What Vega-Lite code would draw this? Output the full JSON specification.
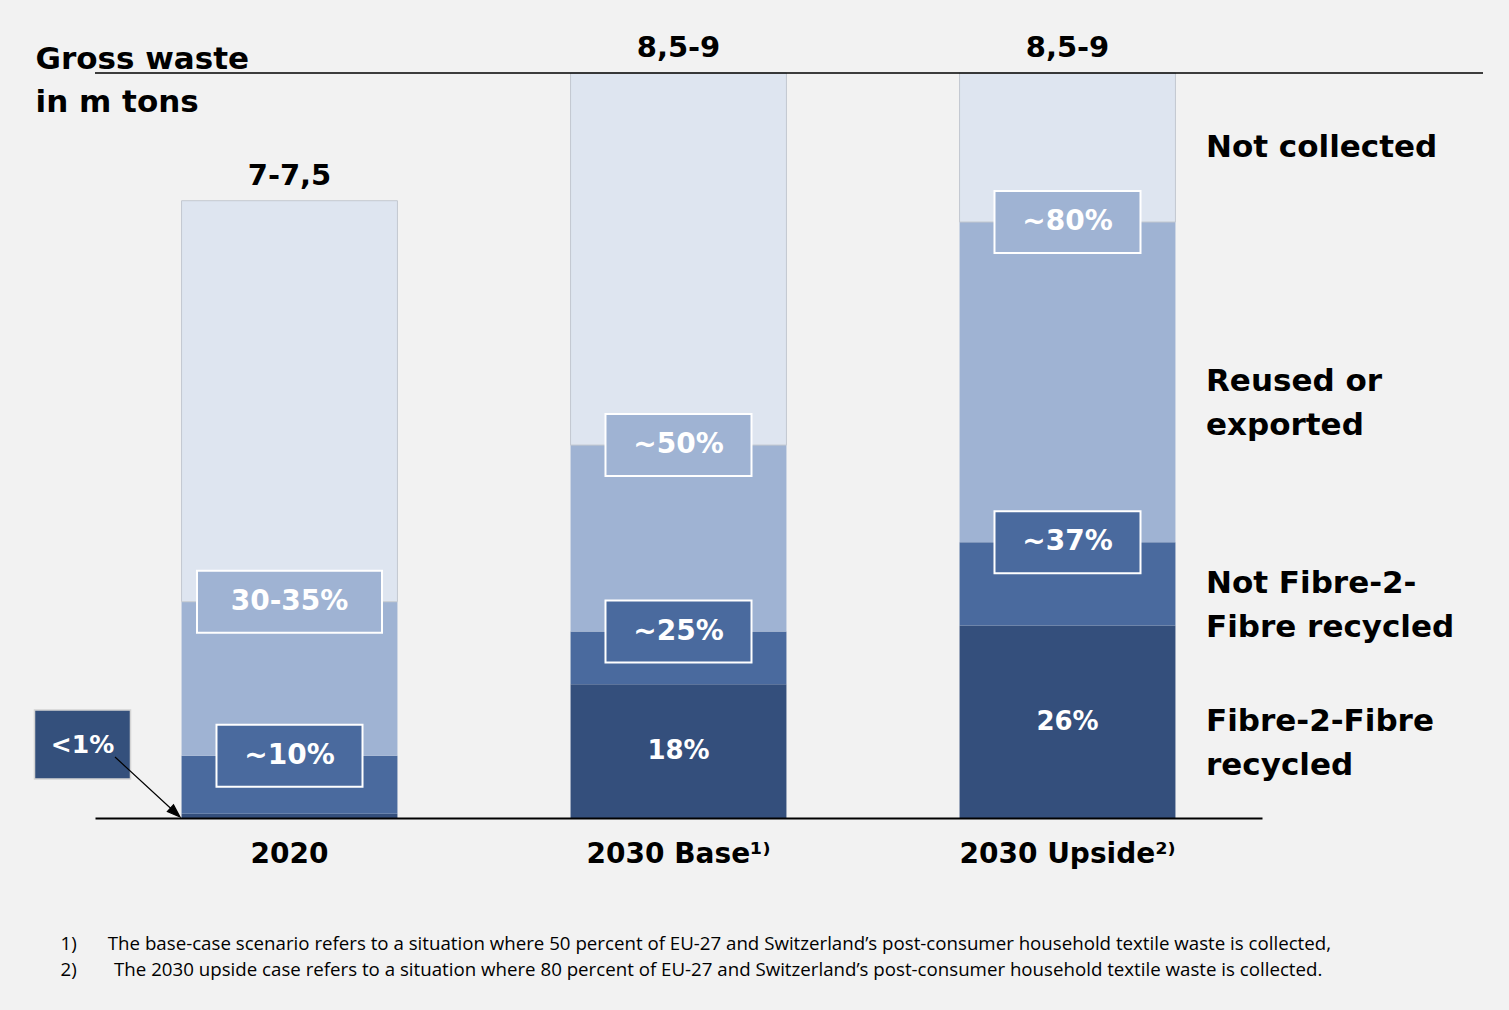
{
  "$schema": "https://vega.github.io/schema/vega-lite/v6.json",
  "width": 1388,
  "height": 745,
  "autosize": {"type": "none"},
  "padding": {"left": 95, "top": 73, "right": 26, "bottom": 192},
  "background": "#f2f2f2",
  "config": {"view": {"stroke": null}, "font": "DejaVu Sans"},
  "layer": [
    {
      "data": {
        "values": [
          {"cat": "2020", "seg": "Fibre-2-Fibre|recycled", "value": 0.05, "label": "<1%", "range": "7-7,5"},
          {"cat": "2020", "seg": "Not Fibre-2-|Fibre recycled", "value": 0.68, "label": "~10%", "range": "7-7,5"},
          {"cat": "2020", "seg": "Reused or|exported", "value": 1.81, "label": "30-35%", "range": "7-7,5"},
          {"cat": "2020", "seg": "Not collected", "value": 4.71, "label": "", "range": "7-7,5"},
          {"cat": "2030 Base\u00b9\u207e", "seg": "Fibre-2-Fibre|recycled", "value": 1.57, "label": "18%", "range": "8,5-9"},
          {"cat": "2030 Base\u00b9\u207e", "seg": "Not Fibre-2-|Fibre recycled", "value": 0.62, "label": "~25%", "range": "8,5-9"},
          {"cat": "2030 Base\u00b9\u207e", "seg": "Reused or|exported", "value": 2.19, "label": "~50%", "range": "8,5-9"},
          {"cat": "2030 Base\u00b9\u207e", "seg": "Not collected", "value": 4.37, "label": "", "range": "8,5-9"},
          {"cat": "2030 Upside\u00b2\u207e", "seg": "Fibre-2-Fibre|recycled", "value": 2.26, "label": "26%", "range": "8,5-9"},
          {"cat": "2030 Upside\u00b2\u207e", "seg": "Not Fibre-2-|Fibre recycled", "value": 0.98, "label": "~37%", "range": "8,5-9"},
          {"cat": "2030 Upside\u00b2\u207e", "seg": "Reused or|exported", "value": 3.76, "label": "~80%", "range": "8,5-9"},
          {"cat": "2030 Upside\u00b2\u207e", "seg": "Not collected", "value": 1.75, "label": "", "range": "8,5-9"}
        ]
      },
      "transform": [
        {"stack": "value", "groupby": ["cat"], "as": ["y0", "y1"]},
        {"calculate": "(datum.y0 + datum.y1) / 2", "as": "mid"}
      ],
      "encoding": {
        "x": {
          "field": "cat",
          "type": "nominal",
          "sort": null,
          "scale": {"range": [0, 1167], "paddingInner": 0.445, "paddingOuter": 0.2225},
          "axis": {
            "labelAngle": 0,
            "labelFont": "DejaVu Sans",
            "labelFontSize": 28,
            "labelFontWeight": "bold",
            "labelColor": "#000",
            "labelPadding": 22,
            "labelLimit": 0,
            "ticks": false,
            "domainColor": "#000",
            "domainWidth": 2,
            "zindex": 1,
            "title": [
              "1)\u2003\u2002\u2009The base-case scenario refers to a situation where 50 percent of EU-27 and Switzerland\u2019s post-consumer household textile waste is collected,",
              "2)\u2003\u2003The 2030 upside case refers to a situation where 80 percent of EU-27 and Switzerland\u2019s post-consumer household textile waste is collected."
            ],
            "titleX": -35,
            "titleY": 125,
            "titleAlign": "left",
            "titleAnchor": "start",
            "titleBaseline": "middle",
            "titleFont": "Open Sans",
            "titleFontSize": 18.7,
            "titleFontWeight": "normal",
            "titleColor": "#000",
            "titleLineHeight": 26
          }
        }
      },
      "layer": [
        {
          "mark": {"type": "bar"},
          "encoding": {
            "y": {
              "field": "y0",
              "type": "quantitative",
              "scale": {"domain": [0, 8.75], "nice": false, "zero": true},
              "axis": {
                "labels": false,
                "ticks": false,
                "domain": false,
                "grid": false,
                "title": ["Gross waste", "in m tons"],
                "titleAngle": 0,
                "titleX": -60,
                "titleY": -5,
                "titleAlign": "left",
                "titleBaseline": "alphabetic",
                "titleFont": "DejaVu Sans",
                "titleFontSize": 31,
                "titleFontWeight": "bold",
                "titleColor": "#000",
                "titleLineHeight": 43
              }
            },
            "y2": {"field": "y1"},
            "color": {
              "field": "seg",
              "type": "nominal",
              "scale": {
                "domain": ["Fibre-2-Fibre|recycled", "Not Fibre-2-|Fibre recycled", "Reused or|exported", "Not collected"],
                "range": ["#344f7c", "#4a6a9e", "#9fb3d3", "#dee5f0"]
              },
              "legend": null
            },
            "stroke": {"condition": {"test": "datum.seg == 'Not collected'", "value": "#c3c8d0"}, "value": null}
          }
        },
        {
          "transform": [{"filter": {"field": "seg", "oneOf": ["Not Fibre-2-|Fibre recycled", "Reused or|exported"]}}],
          "mark": {"type": "point", "filled": true, "size": 3844, "stroke": "#ffffff", "strokeWidth": 2, "opacity": 1},
          "encoding": {
            "y": {"field": "y1", "type": "quantitative"},
            "color": {"field": "seg", "type": "nominal", "legend": null},
            "shape": {
              "field": "label",
              "type": "nominal",
              "scale": {
                "domain": ["~10%", "30-35%", "~25%", "~50%", "~37%", "~80%"],
                "range": [
                  "M-2.355,-1H2.355V1H-2.355Z",
                  "M-2.984,-1H2.984V1H-2.984Z",
                  "M-2.355,-1H2.355V1H-2.355Z",
                  "M-2.355,-1H2.355V1H-2.355Z",
                  "M-2.355,-1H2.355V1H-2.355Z",
                  "M-2.355,-1H2.355V1H-2.355Z"
                ]
              },
              "legend": null
            }
          }
        },
        {
          "transform": [{"filter": {"field": "seg", "oneOf": ["Not Fibre-2-|Fibre recycled", "Reused or|exported"]}}],
          "mark": {"type": "text", "color": "#ffffff", "fontSize": 28, "fontWeight": "bold", "baseline": "middle", "align": "center"},
          "encoding": {
            "y": {"field": "y1", "type": "quantitative"},
            "text": {"field": "label"}
          }
        },
        {
          "transform": [
            {"filter": {"field": "seg", "equal": "Fibre-2-Fibre|recycled"}},
            {"filter": "datum.label != '<1%'"}
          ],
          "mark": {"type": "text", "color": "#ffffff", "fontSize": 26, "fontWeight": "bold", "baseline": "middle", "align": "center"},
          "encoding": {
            "y": {"field": "mid", "type": "quantitative"},
            "text": {"field": "label"}
          }
        },
        {
          "transform": [{"filter": "datum.label == '<1%'"}],
          "mark": {"type": "point", "filled": true, "size": 4, "shape": "M-255,-108H-159V-39H-255Z", "fill": "#34507c", "stroke": "#d4d4d4", "strokeWidth": 1.5, "opacity": 1},
          "encoding": {
            "y": {"field": "y0", "type": "quantitative"}
          }
        },
        {
          "transform": [{"filter": "datum.label == '<1%'"}],
          "mark": {"type": "point", "filled": true, "size": 4, "shape": "M-174.5,-61L-117,-8M-109.5,-1L-122.1,-6.5L-116,-13.1Z", "fill": "#000000", "stroke": "#000000", "strokeWidth": 1.2, "opacity": 1},
          "encoding": {
            "y": {"field": "y0", "type": "quantitative"}
          }
        },
        {
          "transform": [{"filter": "datum.label == '<1%'"}],
          "mark": {"type": "text", "color": "#ffffff", "fontSize": 25, "fontWeight": "bold", "baseline": "middle", "align": "center", "dx": -207, "dy": -73.5},
          "encoding": {
            "y": {"field": "y0", "type": "quantitative"},
            "text": {"field": "label"}
          }
        },
        {
          "mark": {"type": "text", "color": "#000000", "fontSize": 29, "fontWeight": "bold", "baseline": "middle", "align": "center", "dy": -25},
          "encoding": {
            "y": {"aggregate": "max", "field": "y1", "type": "quantitative"},
            "text": {"field": "range"}
          }
        },
        {
          "transform": [{"filter": {"field": "cat", "equal": "2030 Upside\u00b2\u207e"}}],
          "mark": {"type": "text", "color": "#000000", "fontSize": 31, "fontWeight": "bold", "baseline": "middle", "align": "left", "dx": 138.5, "lineBreak": "|", "lineHeight": 44},
          "encoding": {
            "y": {"field": "mid", "type": "quantitative"},
            "text": {"field": "seg"}
          }
        }
      ]
    },
    {
      "data": {"values": [{"top": 8.75}]},
      "mark": {"type": "rule", "color": "#000000", "strokeWidth": 1.5},
      "encoding": {
        "y": {"field": "top", "type": "quantitative"}
      }
    }
  ]
}
